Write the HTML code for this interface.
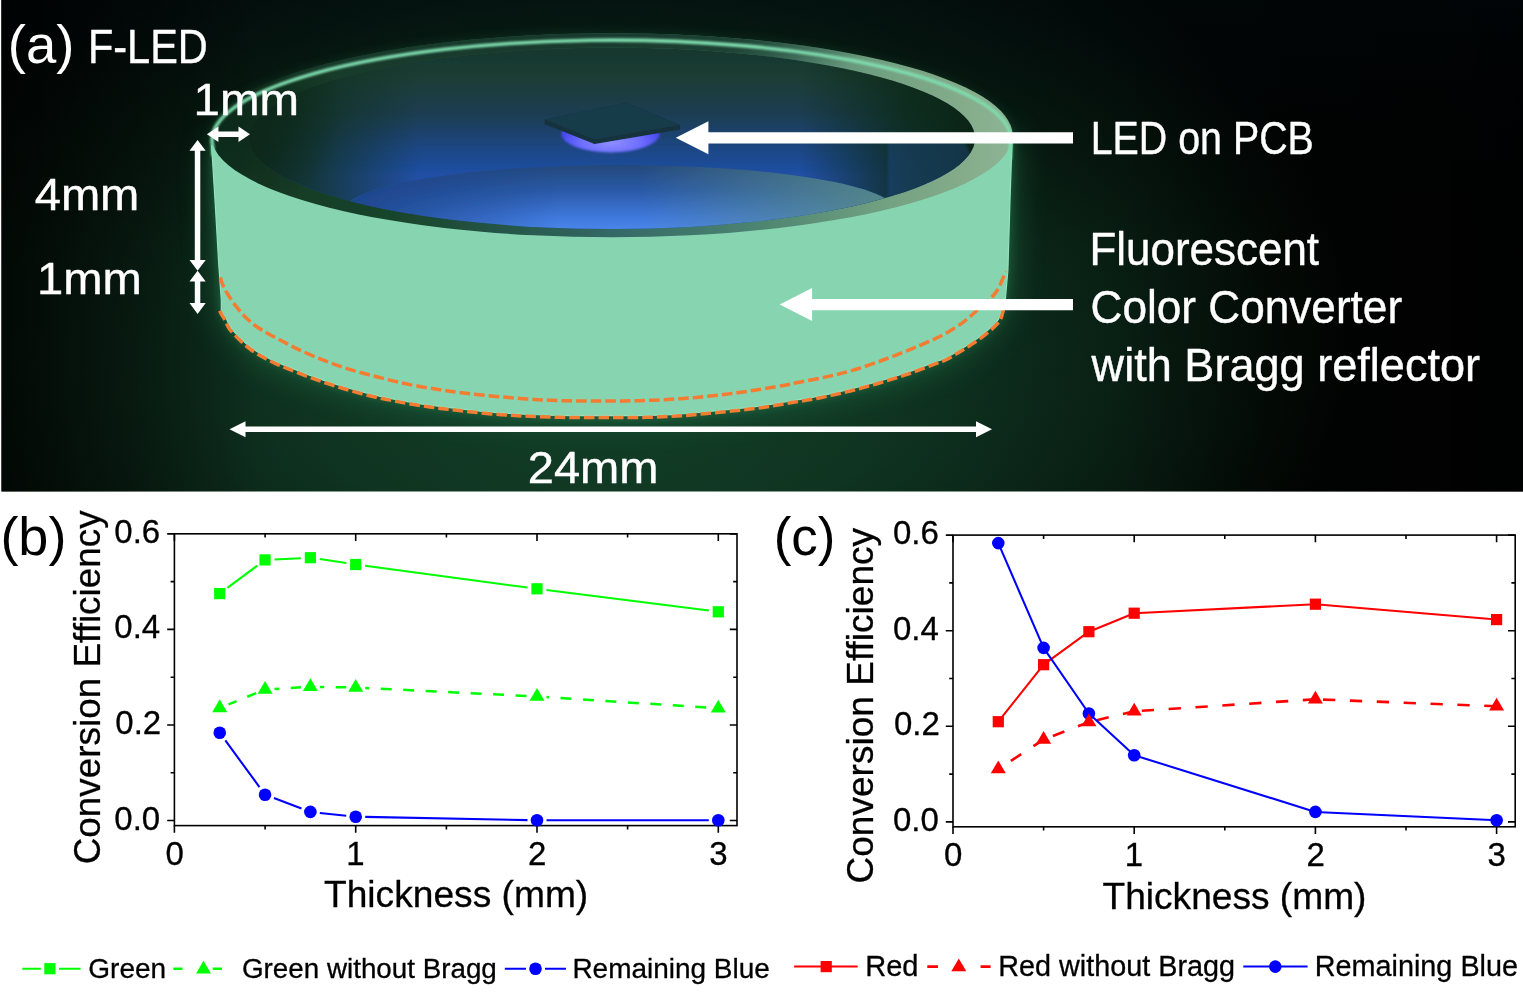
<!DOCTYPE html>
<html lang="en"><head><meta charset="utf-8"><title>F-LED conversion efficiency</title>
<style>
html,body{margin:0;padding:0;background:#fff;}
body{width:1523px;height:998px;overflow:hidden;font-family:"Liberation Sans",sans-serif;}
svg{display:block}
</style></head><body>
<svg width="1523" height="998" viewBox="0 0 1523 998">
<rect width="1523" height="998" fill="#fff"/>
<defs>
<radialGradient id="bgA" cx="600" cy="330" r="760" gradientUnits="userSpaceOnUse" gradientTransform="translate(600 330) scale(1 0.62) translate(-600 -330)">
<stop offset="0" stop-color="#15462c"/><stop offset="0.45" stop-color="#0f3421"/><stop offset="0.8" stop-color="#07180f"/><stop offset="1" stop-color="#020503"/></radialGradient>
<linearGradient id="bgR" x1="1120" y1="0" x2="1523" y2="0" gradientUnits="userSpaceOnUse">
<stop offset="0" stop-color="#000" stop-opacity="0"/><stop offset="1" stop-color="#000" stop-opacity="0.85"/></linearGradient>
<linearGradient id="bgL" x1="0" y1="0" x2="260" y2="0" gradientUnits="userSpaceOnUse">
<stop offset="0" stop-color="#000" stop-opacity="0.6"/><stop offset="0.5" stop-color="#000" stop-opacity="0.3"/><stop offset="1" stop-color="#000" stop-opacity="0"/></linearGradient>
<linearGradient id="bgT" x1="0" y1="0" x2="0" y2="491" gradientUnits="userSpaceOnUse">
<stop offset="0" stop-color="#00080c" stop-opacity="0.5"/><stop offset="0.5" stop-color="#000" stop-opacity="0.1"/><stop offset="1" stop-color="#000" stop-opacity="0"/></linearGradient>
<filter id="blur18" x="-20%" y="-20%" width="140%" height="140%"><feGaussianBlur stdDeviation="18"/></filter>
<filter id="blur6" x="-20%" y="-20%" width="140%" height="140%"><feGaussianBlur stdDeviation="6"/></filter>
<filter id="blur3" x="-20%" y="-20%" width="140%" height="140%"><feGaussianBlur stdDeviation="3"/></filter>
<filter id="blur2" x="-20%" y="-20%" width="140%" height="140%"><feGaussianBlur stdDeviation="1.6"/></filter>
<filter id="blur1" x="-20%" y="-20%" width="140%" height="140%"><feGaussianBlur stdDeviation="0.8"/></filter>
<filter id="soft" x="-5%" y="-5%" width="110%" height="110%"><feGaussianBlur stdDeviation="0.55"/></filter>
<linearGradient id="rimG" x1="211" y1="0" x2="1012" y2="0" gradientUnits="userSpaceOnUse">
<stop offset="0" stop-color="#103320"/><stop offset="0.25" stop-color="#1a472e"/><stop offset="0.5" stop-color="#336866"/><stop offset="0.68" stop-color="#4c8470"/><stop offset="0.85" stop-color="#74a282"/><stop offset="0.95" stop-color="#86ad8c"/><stop offset="1" stop-color="#8db494"/></linearGradient>
<linearGradient id="wallG" x1="0" y1="39" x2="0" y2="229" gradientUnits="userSpaceOnUse">
<stop offset="0" stop-color="#18362b"/><stop offset="0.2" stop-color="#1a3c34"/><stop offset="0.4" stop-color="#1a3e52"/><stop offset="0.56" stop-color="#1c4580"/><stop offset="0.72" stop-color="#2050a6"/><stop offset="1" stop-color="#2152aa"/></linearGradient>
<linearGradient id="sideL" x1="248" y1="0" x2="420" y2="0" gradientUnits="userSpaceOnUse">
<stop offset="0" stop-color="#0f2a1b" stop-opacity="1"/><stop offset="0.35" stop-color="#10301f" stop-opacity="0.8"/><stop offset="1" stop-color="#10301f" stop-opacity="0"/></linearGradient>
<linearGradient id="sideR" x1="975" y1="0" x2="800" y2="0" gradientUnits="userSpaceOnUse">
<stop offset="0" stop-color="#0a2414" stop-opacity="1"/><stop offset="0.4" stop-color="#0c2a18" stop-opacity="0.85"/><stop offset="1" stop-color="#0c2a18" stop-opacity="0"/></linearGradient>
<linearGradient id="floorG" x1="0" y1="165" x2="0" y2="230" gradientUnits="userSpaceOnUse">
<stop offset="0" stop-color="#24497c"/><stop offset="0.4" stop-color="#2a5aa8"/><stop offset="0.8" stop-color="#3f78dc"/><stop offset="1" stop-color="#4a86ea"/></linearGradient>
<linearGradient id="floorR" x1="640" y1="0" x2="880" y2="0" gradientUnits="userSpaceOnUse">
<stop offset="0" stop-color="#5a8c84" stop-opacity="0"/><stop offset="1" stop-color="#5a8c84" stop-opacity="0.85"/></linearGradient>
<linearGradient id="floorL" x1="345" y1="0" x2="560" y2="0" gradientUnits="userSpaceOnUse">
<stop offset="0" stop-color="#1b4286" stop-opacity="0.9"/><stop offset="1" stop-color="#1b4286" stop-opacity="0"/></linearGradient>
<radialGradient id="ledG" cx="611" cy="142" r="50" gradientUnits="userSpaceOnUse" gradientTransform="translate(611 142) scale(1 0.4) translate(-611 -142)">
<stop offset="0" stop-color="#9090ff"/><stop offset="0.6" stop-color="#6e6eff"/><stop offset="1" stop-color="#4a4af0"/></radialGradient>
<radialGradient id="rimTop" cx="520" cy="36" r="360" gradientUnits="userSpaceOnUse" gradientTransform="translate(520 36) scale(1 0.2) translate(-520 -36)">
<stop offset="0" stop-color="#183a2c" stop-opacity="1"/><stop offset="0.6" stop-color="#183a2c" stop-opacity="0.9"/><stop offset="1" stop-color="#183a2c" stop-opacity="0"/></radialGradient>
<radialGradient id="rimDark" cx="235" cy="105" r="110" gradientUnits="userSpaceOnUse">
<stop offset="0" stop-color="#0c2618" stop-opacity="0.85"/><stop offset="0.5" stop-color="#0c2618" stop-opacity="0.55"/><stop offset="1" stop-color="#0c2618" stop-opacity="0"/></radialGradient>
<clipPath id="outerClip"><ellipse cx="611.75" cy="135.3" rx="400.75" ry="102"/></clipPath>
<clipPath id="innerClip"><ellipse cx="612" cy="138.3" rx="363" ry="90.7"/></clipPath>
<clipPath id="panelClip"><rect x="1.4" y="0" width="1522" height="491.5"/></clipPath>
</defs>
<g clip-path="url(#panelClip)">
<rect x="1" y="0" width="1523" height="492" fill="url(#bgA)"/>
<rect x="1" y="0" width="1523" height="492" fill="url(#bgR)"/>
<rect x="1" y="0" width="1523" height="492" fill="url(#bgT)"/>
<rect x="1" y="0" width="262" height="492" fill="url(#bgL)"/>
<path d="M211.6,146.0 L215.0,200.0 L218.8,265.0 L221.3,300.0 L221.3,309.9 C221.7,310.6 222.7,312.9 223.6,314.4 C224.4,315.9 225.2,316.6 226.4,318.8 C227.6,321.0 228.4,324.4 230.8,327.6 C233.1,330.9 237.1,334.9 240.5,338.2 C243.9,341.5 247.3,344.7 251.2,347.6 C255.0,350.4 259.4,353.0 263.6,355.4 C267.8,357.8 271.8,359.9 276.4,362.0 C280.9,364.0 284.0,365.3 290.8,367.9 C297.5,370.6 307.9,374.8 316.7,377.9 C325.5,381.0 334.6,384.0 343.8,386.8 C353.0,389.5 362.6,392.2 372.0,394.4 C381.4,396.7 390.9,398.6 400.3,400.3 C409.8,402.1 420.8,403.8 428.7,405.0 C436.5,406.2 440.3,406.5 447.5,407.4 C454.7,408.3 463.1,409.3 472.1,410.2 C481.1,411.1 492.0,412.2 501.6,412.9 C511.3,413.6 520.2,414.1 529.9,414.5 C539.5,414.9 549.6,415.3 559.4,415.5 C569.3,415.7 579.3,415.7 588.9,415.7 C598.5,415.7 607.5,415.7 617.1,415.7 C626.7,415.7 636.7,415.7 646.6,415.5 C656.4,415.3 666.4,414.9 676.1,414.3 C685.7,413.7 694.8,412.8 704.4,411.9 C714.1,411.0 724.3,410.0 733.9,409.0 C743.5,408.0 752.6,407.1 762.2,405.7 C771.9,404.4 782.0,402.5 791.6,400.8 C801.2,399.2 810.5,397.8 820.0,395.9 C829.4,394.1 838.7,392.0 848.2,389.7 C857.6,387.3 867.1,384.7 876.5,382.0 C885.9,379.2 895.6,376.3 904.8,373.2 C914.1,370.1 925.2,365.6 932.0,363.1 C938.7,360.6 940.9,360.1 945.2,358.1 C949.5,356.0 953.7,353.4 957.7,351.0 C961.7,348.6 965.4,346.2 969.3,343.7 C973.2,341.1 977.0,338.6 980.9,335.7 C984.8,332.7 989.6,328.7 992.6,325.9 C995.5,323.1 997.1,321.6 998.5,319.1 C1000.0,316.6 1000.7,313.2 1001.4,310.6 C1002.1,308.0 1002.5,304.8 1002.7,303.7 L1005.3,300.0 L1007.9,270.0 L1010.0,200.0 L1012.3,135.0 Z" fill="#2f9a62" opacity="0.45" filter="url(#blur18)"/>
<path d="M211.6,146.0 L215.0,200.0 L218.8,265.0 L221.3,300.0 L221.3,309.9 C221.7,310.6 222.7,312.9 223.6,314.4 C224.4,315.9 225.2,316.6 226.4,318.8 C227.6,321.0 228.4,324.4 230.8,327.6 C233.1,330.9 237.1,334.9 240.5,338.2 C243.9,341.5 247.3,344.7 251.2,347.6 C255.0,350.4 259.4,353.0 263.6,355.4 C267.8,357.8 271.8,359.9 276.4,362.0 C280.9,364.0 284.0,365.3 290.8,367.9 C297.5,370.6 307.9,374.8 316.7,377.9 C325.5,381.0 334.6,384.0 343.8,386.8 C353.0,389.5 362.6,392.2 372.0,394.4 C381.4,396.7 390.9,398.6 400.3,400.3 C409.8,402.1 420.8,403.8 428.7,405.0 C436.5,406.2 440.3,406.5 447.5,407.4 C454.7,408.3 463.1,409.3 472.1,410.2 C481.1,411.1 492.0,412.2 501.6,412.9 C511.3,413.6 520.2,414.1 529.9,414.5 C539.5,414.9 549.6,415.3 559.4,415.5 C569.3,415.7 579.3,415.7 588.9,415.7 C598.5,415.7 607.5,415.7 617.1,415.7 C626.7,415.7 636.7,415.7 646.6,415.5 C656.4,415.3 666.4,414.9 676.1,414.3 C685.7,413.7 694.8,412.8 704.4,411.9 C714.1,411.0 724.3,410.0 733.9,409.0 C743.5,408.0 752.6,407.1 762.2,405.7 C771.9,404.4 782.0,402.5 791.6,400.8 C801.2,399.2 810.5,397.8 820.0,395.9 C829.4,394.1 838.7,392.0 848.2,389.7 C857.6,387.3 867.1,384.7 876.5,382.0 C885.9,379.2 895.6,376.3 904.8,373.2 C914.1,370.1 925.2,365.6 932.0,363.1 C938.7,360.6 940.9,360.1 945.2,358.1 C949.5,356.0 953.7,353.4 957.7,351.0 C961.7,348.6 965.4,346.2 969.3,343.7 C973.2,341.1 977.0,338.6 980.9,335.7 C984.8,332.7 989.6,328.7 992.6,325.9 C995.5,323.1 997.1,321.6 998.5,319.1 C1000.0,316.6 1000.7,313.2 1001.4,310.6 C1002.1,308.0 1002.5,304.8 1002.7,303.7 L1005.3,300.0 L1007.9,270.0 L1010.0,200.0 L1012.3,135.0 Z" fill="#3fb878" opacity="0.3" filter="url(#blur6)"/>
<ellipse cx="611.75" cy="135.3" rx="400.75" ry="102" fill="#2f9a62" opacity="0.18" filter="url(#blur6)"/>
<g filter="url(#soft)">
<path d="M211.6,146.0 L215.0,200.0 L218.8,265.0 L221.3,300.0 L221.3,309.9 C221.7,310.6 222.7,312.9 223.6,314.4 C224.4,315.9 225.2,316.6 226.4,318.8 C227.6,321.0 228.4,324.4 230.8,327.6 C233.1,330.9 237.1,334.9 240.5,338.2 C243.9,341.5 247.3,344.7 251.2,347.6 C255.0,350.4 259.4,353.0 263.6,355.4 C267.8,357.8 271.8,359.9 276.4,362.0 C280.9,364.0 284.0,365.3 290.8,367.9 C297.5,370.6 307.9,374.8 316.7,377.9 C325.5,381.0 334.6,384.0 343.8,386.8 C353.0,389.5 362.6,392.2 372.0,394.4 C381.4,396.7 390.9,398.6 400.3,400.3 C409.8,402.1 420.8,403.8 428.7,405.0 C436.5,406.2 440.3,406.5 447.5,407.4 C454.7,408.3 463.1,409.3 472.1,410.2 C481.1,411.1 492.0,412.2 501.6,412.9 C511.3,413.6 520.2,414.1 529.9,414.5 C539.5,414.9 549.6,415.3 559.4,415.5 C569.3,415.7 579.3,415.7 588.9,415.7 C598.5,415.7 607.5,415.7 617.1,415.7 C626.7,415.7 636.7,415.7 646.6,415.5 C656.4,415.3 666.4,414.9 676.1,414.3 C685.7,413.7 694.8,412.8 704.4,411.9 C714.1,411.0 724.3,410.0 733.9,409.0 C743.5,408.0 752.6,407.1 762.2,405.7 C771.9,404.4 782.0,402.5 791.6,400.8 C801.2,399.2 810.5,397.8 820.0,395.9 C829.4,394.1 838.7,392.0 848.2,389.7 C857.6,387.3 867.1,384.7 876.5,382.0 C885.9,379.2 895.6,376.3 904.8,373.2 C914.1,370.1 925.2,365.6 932.0,363.1 C938.7,360.6 940.9,360.1 945.2,358.1 C949.5,356.0 953.7,353.4 957.7,351.0 C961.7,348.6 965.4,346.2 969.3,343.7 C973.2,341.1 977.0,338.6 980.9,335.7 C984.8,332.7 989.6,328.7 992.6,325.9 C995.5,323.1 997.1,321.6 998.5,319.1 C1000.0,316.6 1000.7,313.2 1001.4,310.6 C1002.1,308.0 1002.5,304.8 1002.7,303.7 L1005.3,300.0 L1007.9,270.0 L1010.0,200.0 L1012.3,135.0 Z" fill="#86d4b0" stroke="#93e2c0" stroke-width="1.2"/>
<ellipse cx="611.75" cy="135.3" rx="400.75" ry="102" fill="url(#rimG)"/>
<ellipse cx="612" cy="138.3" rx="363" ry="90.7" fill="url(#wallG)"/>
</g>
<g clip-path="url(#innerClip)">
<rect x="240" y="30" width="190" height="210" fill="url(#sideL)"/>
<rect x="790" y="30" width="190" height="210" fill="url(#sideR)"/>
<path d="M888,142 L965,142 L975,165 L930,200 L888,197 Z" fill="#20508f" opacity="0.4" filter="url(#blur2)"/>
<g filter="url(#soft)">
<ellipse cx="620" cy="211" rx="276" ry="46" fill="url(#floorG)"/>
<ellipse cx="620" cy="211" rx="276" ry="46" fill="url(#floorR)"/>
<ellipse cx="620" cy="211" rx="276" ry="46" fill="url(#floorL)"/>
</g>
</g>
<rect x="200" y="30" width="160" height="190" fill="url(#rimDark)" clip-path="url(#outerClip)"/>
<g clip-path="url(#outerClip)"><path fill-rule="evenodd" fill="url(#rimTop)" d="M150,0 H900 V110 H150 Z M249,138.3 a363,90.7 0 1 0 726,0 a363,90.7 0 1 0 -726,0 Z"/></g>
<path d="M213.3,156 L212.6,146 A399.15,100.4 0 0 1 1010.7,135.3 L1010,160" fill="none" stroke="#7fdcae" stroke-width="3.6" filter="url(#blur1)"/>
<ellipse cx="610.5" cy="134" rx="49" ry="18.5" fill="url(#ledG)" filter="url(#blur1)"/>
<g filter="url(#soft)">
<path d="M544.5,119.5 L626.5,102.8 L680,125 L680,129.5 L594.5,144 L544.5,124 Z" fill="#12303c"/>
<path d="M544.5,119.5 L626.5,102.8 L680,125 L594.5,139.8 Z" fill="#193a4a"/>
</g>
<g filter="url(#soft)"><path d="M220.3,277.3 C220.8,278.6 221.7,282.4 223.0,285.4 C224.3,288.3 225.8,291.3 228.2,295.0 C230.5,298.7 234.0,303.8 237.1,307.7 C240.2,311.6 243.1,315.0 246.6,318.3 C250.1,321.6 254.0,324.8 257.9,327.5 C261.8,330.2 265.8,332.4 270.0,334.7 C274.2,337.0 278.7,339.2 283.0,341.5 C287.3,343.8 289.3,345.2 296.0,348.3 C302.7,351.4 314.1,356.6 323.2,360.1 C332.3,363.7 341.1,366.7 350.4,369.6 C359.6,372.5 369.4,374.9 378.7,377.3 C387.9,379.7 396.4,381.8 405.9,383.8 C415.4,385.8 425.9,387.6 435.5,389.1 C445.1,390.6 454.0,391.8 463.6,393.0 C473.2,394.2 483.3,395.2 493.2,396.2 C503.1,397.1 513.1,398.0 522.7,398.7 C532.4,399.4 541.5,399.9 551.1,400.3 C560.8,400.7 570.8,400.9 580.6,401.0 C590.4,401.1 600.4,401.1 610.0,401.0 C619.6,400.9 628.8,400.9 638.4,400.7 C648.0,400.4 658.2,400.1 667.9,399.5 C677.5,398.9 686.6,398.3 696.3,397.4 C705.9,396.5 716.1,395.4 725.8,394.2 C735.4,393.0 744.6,391.8 754.2,390.3 C763.9,388.8 776.6,386.6 783.7,385.4 C790.8,384.1 789.5,384.2 796.6,382.8 C803.7,381.4 816.7,379.0 826.2,376.9 C835.7,374.8 844.1,372.8 853.4,370.1 C862.6,367.4 872.5,363.8 881.7,360.5 C890.9,357.2 901.8,352.9 908.6,350.2 C915.4,347.5 918.0,346.2 922.5,344.3 C927.0,342.4 931.2,340.6 935.6,338.5 C940.0,336.4 944.4,334.2 948.7,331.7 C953.0,329.2 957.8,326.0 961.3,323.6 C964.8,321.2 967.0,319.1 969.4,317.1 C971.8,315.1 973.1,313.8 975.5,311.7 C977.9,309.6 980.9,306.8 983.5,304.5 C986.1,302.2 989.0,300.0 991.1,297.9 C993.2,295.8 994.8,293.8 996.2,291.9 C997.6,290.0 998.4,288.6 999.5,286.4 C1000.6,284.2 1001.8,281.1 1002.8,278.6 C1003.8,276.1 1005.3,272.6 1005.8,271.4" fill="none" stroke="#f47c30" stroke-width="3.5" stroke-dasharray="10.6 4"/>
<path d="M219.7,310.7 C220.1,311.5 221.2,313.8 222.0,315.3 C222.8,316.8 223.6,317.5 224.8,319.7 C226.0,321.9 226.9,325.4 229.3,328.7 C231.7,332.0 235.7,336.1 239.2,339.5 C242.7,342.9 246.2,346.1 250.1,349.0 C254.0,351.9 258.4,354.6 262.7,357.0 C266.9,359.4 271.0,361.5 275.6,363.6 C280.2,365.7 283.4,366.9 290.1,369.6 C296.9,372.3 307.2,376.5 316.1,379.6 C325.0,382.8 334.1,385.7 343.3,388.5 C352.6,391.3 362.2,393.9 371.6,396.2 C381.1,398.5 390.5,400.3 400.0,402.1 C409.5,403.9 420.5,405.6 428.4,406.8 C436.3,408.0 440.1,408.3 447.3,409.2 C454.6,410.1 462.9,411.1 471.9,412.0 C480.9,412.9 491.9,414.0 501.5,414.7 C511.1,415.4 520.1,415.9 529.8,416.3 C539.4,416.7 549.5,417.1 559.4,417.3 C569.2,417.5 579.3,417.5 588.9,417.5 C598.5,417.5 607.5,417.5 617.1,417.5 C626.7,417.5 636.8,417.5 646.6,417.3 C656.5,417.1 666.5,416.7 676.2,416.1 C685.9,415.5 695.0,414.6 704.6,413.7 C714.2,412.8 724.5,411.8 734.1,410.8 C743.8,409.8 752.9,408.9 762.5,407.5 C772.1,406.1 782.3,404.2 791.9,402.6 C801.5,401.0 810.8,399.6 820.3,397.7 C829.8,395.8 839.1,393.7 848.6,391.4 C858.1,389.1 867.5,386.4 877.0,383.7 C886.5,380.9 896.1,378.0 905.4,374.9 C914.7,371.8 925.8,367.3 932.6,364.8 C939.4,362.3 941.7,361.8 946.0,359.7 C950.3,357.6 954.6,354.9 958.6,352.5 C962.6,350.1 966.4,347.8 970.3,345.2 C974.2,342.6 978.1,340.1 982.0,337.1 C985.9,334.1 990.8,330.1 993.8,327.2 C996.8,324.3 998.5,322.7 1000.1,320.0 C1001.7,317.3 1002.4,313.8 1003.1,311.1 C1003.8,308.4 1004.3,305.2 1004.5,304.0" fill="none" stroke="#f47c30" stroke-width="3.5" stroke-dasharray="10.6 4"/></g>
<g filter="url(#soft)">
<polygon points="675.8,137.8 708.4,121.3 708.4,132.2 1073.0,132.2 1073.0,143.4 708.4,143.4 708.4,154.3" fill="#fff"/>
<polygon points="779.7,304.6 812.1,288.1 812.1,299.0 1073.0,299.0 1073.0,310.2 812.1,310.2 812.1,321.1" fill="#fff"/>
<polygon points="229.5,429.2 245.5,421.2 245.5,426.5 976.0,426.5 976.0,421.2 992.0,429.2 976.0,437.2 976.0,431.9 245.5,431.9 245.5,437.2" fill="#fff"/>
<polygon points="206.9,134.3 218.4,126.6 218.4,131.5 238.5,131.5 238.5,126.6 250.0,134.3 238.5,142.1 238.5,137.1 218.4,137.1 218.4,142.1" fill="#fff"/>
<polygon points="197.6,139.9 205.7,150.7 200.3,150.7 200.3,260.0 205.7,260.0 197.6,270.8 189.5,260.0 194.8,260.0 194.8,150.7 189.5,150.7" fill="#fff"/>
<polygon points="197.6,270.8 205.7,281.6 200.3,281.6 200.3,303.1 205.7,303.1 197.6,313.9 189.5,303.1 194.8,303.1 194.8,281.6 189.5,281.6" fill="#fff"/>
</g>
<text x="7.80" y="63.00" font-family="Liberation Sans, sans-serif" font-size="54.46" fill="#fff">(a)</text>
<text x="88.00" y="63.00" font-family="Liberation Sans, sans-serif" font-size="48.20" fill="#fff" stroke="#fff" stroke-width="0.4" stroke-linejoin="round" textLength="119.76" lengthAdjust="spacingAndGlyphs">F-LED</text>
<text x="193.50" y="115.00" font-family="Liberation Sans, sans-serif" font-size="43.80" fill="#fff" stroke="#fff" stroke-width="0.4" stroke-linejoin="round" textLength="105.39" lengthAdjust="spacingAndGlyphs">1mm</text>
<text x="34.70" y="209.80" font-family="Liberation Sans, sans-serif" font-size="43.80" fill="#fff" stroke="#fff" stroke-width="0.4" stroke-linejoin="round" textLength="104.65" lengthAdjust="spacingAndGlyphs">4mm</text>
<text x="36.90" y="293.90" font-family="Liberation Sans, sans-serif" font-size="43.80" fill="#fff" stroke="#fff" stroke-width="0.4" stroke-linejoin="round" textLength="104.86" lengthAdjust="spacingAndGlyphs">1mm</text>
<text x="527.80" y="483.00" font-family="Liberation Sans, sans-serif" font-size="43.80" fill="#fff" stroke="#fff" stroke-width="0.4" stroke-linejoin="round" textLength="130.69" lengthAdjust="spacingAndGlyphs">24mm</text>
<text x="1090.70" y="153.70" font-family="Liberation Sans, sans-serif" font-size="45.30" fill="#fff" stroke="#fff" stroke-width="0.4" stroke-linejoin="round" textLength="223.12" lengthAdjust="spacingAndGlyphs">LED on PCB</text>
<text x="1089.50" y="264.80" font-family="Liberation Sans, sans-serif" font-size="45.30" fill="#fff" stroke="#fff" stroke-width="0.4" stroke-linejoin="round" textLength="229.58" lengthAdjust="spacingAndGlyphs">Fluorescent</text>
<text x="1090.60" y="322.90" font-family="Liberation Sans, sans-serif" font-size="45.30" fill="#fff" stroke="#fff" stroke-width="0.4" stroke-linejoin="round" textLength="311.53" lengthAdjust="spacingAndGlyphs">Color Converter</text>
<text x="1091.60" y="381.10" font-family="Liberation Sans, sans-serif" font-size="45.30" fill="#fff" stroke="#fff" stroke-width="0.4" stroke-linejoin="round" textLength="388.50" lengthAdjust="spacingAndGlyphs">with Bragg reflector</text>
</g>
<rect x="174.4" y="533.8" width="562.6" height="291.8" fill="none" stroke="#000" stroke-width="1.6"/>
<path d="M174.4,825.6 v7.2 M174.4,533.8 v7.2 M265.1,825.6 v3.8 M265.1,533.8 v3.8 M355.7,825.6 v7.2 M355.7,533.8 v7.2 M446.4,825.6 v3.8 M446.4,533.8 v3.8 M537.0,825.6 v7.2 M537.0,533.8 v7.2 M627.6,825.6 v3.8 M627.6,533.8 v3.8 M718.3,825.6 v7.2 M718.3,533.8 v7.2 M174.4,820.5 h-7.2 M737,820.5 h-7.2 M174.4,772.7 h-3.8 M737,772.7 h-3.8 M174.4,725.0 h-7.2 M737,725.0 h-7.2 M174.4,677.2 h-3.8 M737,677.2 h-3.8 M174.4,629.4 h-7.2 M737,629.4 h-7.2 M174.4,581.6 h-3.8 M737,581.6 h-3.8 M174.4,533.9 h-7.2 M737,533.9 h-7.2" fill="none" stroke="#000" stroke-width="1.6"/>
<path d="M227.35,587.93 L257.43,565.57 M274.54,559.44 L300.89,558.16 M319.77,559.11 L346.31,563.09 M365.12,565.76 L527.58,587.54 M546.42,590.00 L708.88,610.60" fill="none" stroke="#00ff00" stroke-width="2.05" stroke-linejoin="round"/>
<rect x="214.13" y="588.00" width="11.2" height="11.2" fill="#00ff00"/>
<rect x="259.45" y="554.30" width="11.2" height="11.2" fill="#00ff00"/>
<rect x="304.77" y="552.10" width="11.2" height="11.2" fill="#00ff00"/>
<rect x="350.10" y="558.90" width="11.2" height="11.2" fill="#00ff00"/>
<rect x="531.40" y="583.20" width="11.2" height="11.2" fill="#00ff00"/>
<rect x="712.70" y="606.20" width="11.2" height="11.2" fill="#00ff00"/>
<path d="M228.53,704.33 L236.59,701.05 M247.24,696.73 L256.25,693.07 M274.53,688.94 L279.31,688.65 M290.79,687.97 L300.89,687.36 M319.87,686.95 L324.25,687.01 M335.75,687.19 L346.20,687.35 M365.19,687.97 L369.23,688.17 M380.72,688.74 L391.70,689.29 M403.19,689.86 L414.17,690.40 M425.66,690.97 L436.65,691.52 M448.13,692.09 L459.12,692.63 M470.61,693.20 L481.59,693.75 M493.08,694.32 L504.06,694.87 M515.55,695.44 L526.54,695.98 M546.48,697.12 L549.00,697.28 M560.47,698.03 L571.45,698.74 M582.93,699.49 L593.90,700.20 M605.38,700.95 L616.36,701.66 M627.83,702.41 L638.81,703.13 M650.28,703.87 L661.26,704.59 M672.74,705.33 L683.71,706.05 M695.19,706.80 L706.17,707.51" fill="none" stroke="#00ff00" stroke-width="2.5" stroke-linejoin="round"/>
<polygon points="219.73,699.37 227.23,712.17 212.23,712.17" fill="#00ff00"/>
<polygon points="265.05,680.97 272.55,693.77 257.55,693.77" fill="#00ff00"/>
<polygon points="310.38,678.27 317.88,691.07 302.88,691.07" fill="#00ff00"/>
<polygon points="355.70,678.97 363.20,691.77 348.20,691.77" fill="#00ff00"/>
<polygon points="537.00,687.97 544.50,700.77 529.50,700.77" fill="#00ff00"/>
<polygon points="718.30,699.77 725.80,712.57 710.80,712.57" fill="#00ff00"/>
<path d="M225.34,740.46 L259.44,787.04 M273.93,798.07 L301.49,808.53 M319.82,812.90 L346.25,815.70 M365.20,816.89 L527.50,820.11 M546.50,820.30 L708.80,820.30" fill="none" stroke="#0000ff" stroke-width="2.05" stroke-linejoin="round"/>
<circle cx="219.73" cy="732.80" r="6.3" fill="#0000ff"/>
<circle cx="265.05" cy="794.70" r="6.3" fill="#0000ff"/>
<circle cx="310.38" cy="811.90" r="6.3" fill="#0000ff"/>
<circle cx="355.70" cy="816.70" r="6.3" fill="#0000ff"/>
<circle cx="537.00" cy="820.30" r="6.3" fill="#0000ff"/>
<circle cx="718.30" cy="820.30" r="6.3" fill="#0000ff"/>
<rect x="953" y="535.1" width="562.2" height="291.7" fill="none" stroke="#000" stroke-width="1.6"/>
<path d="M953.0,826.8 v7.2 M953.0,535.1 v7.2 M1043.6,826.8 v3.8 M1043.6,535.1 v3.8 M1134.2,826.8 v7.2 M1134.2,535.1 v7.2 M1224.8,826.8 v3.8 M1224.8,535.1 v3.8 M1315.4,826.8 v7.2 M1315.4,535.1 v7.2 M1406.0,826.8 v3.8 M1406.0,535.1 v3.8 M1496.6,826.8 v7.2 M1496.6,535.1 v7.2 M953,821.9 h-7.2 M1515.2,821.9 h-7.2 M953,774.1 h-3.8 M1515.2,774.1 h-3.8 M953,726.3 h-7.2 M1515.2,726.3 h-7.2 M953,678.5 h-3.8 M1515.2,678.5 h-3.8 M953,630.7 h-7.2 M1515.2,630.7 h-7.2 M953,582.9 h-3.8 M1515.2,582.9 h-3.8 M953,535.1 h-7.2 M1515.2,535.1 h-7.2" fill="none" stroke="#000" stroke-width="1.6"/>
<path d="M998.30,721.70 L1043.60,664.70 L1088.90,631.70 L1134.20,613.20 L1315.40,604.20 L1496.60,619.60" fill="none" stroke="#ff0000" stroke-width="2.05" stroke-linejoin="round"/>
<path d="M998.30,769.00 L998.64,768.78 M1010.88,760.83 L1021.20,754.14 M1033.45,746.19 L1043.60,739.60 M1052.92,735.98 L1064.39,731.52 M1078.00,726.24 L1088.90,722.00 M1096.69,720.16 L1108.66,717.33 M1122.87,713.98 L1134.20,711.30 M1141.78,710.80 L1154.06,709.98 M1168.62,709.02 L1180.90,708.21 M1195.47,707.24 L1207.74,706.43 M1222.31,705.47 L1234.58,704.65 M1249.15,703.69 L1261.42,702.87 M1275.99,701.91 L1288.26,701.10 M1302.83,700.13 L1315.10,699.32 M1322.99,699.59 L1335.29,700.07 M1349.87,700.63 L1362.17,701.11 M1376.75,701.67 L1389.05,702.15 M1403.63,702.71 L1415.93,703.18 M1430.51,703.75 L1442.80,704.22 M1457.39,704.79 L1469.68,705.26 M1484.27,705.82 L1496.56,706.30" fill="none" stroke="#ff0000" stroke-width="2.6" stroke-linejoin="round"/>
<path d="M998.30,543.10 L1043.60,647.90 L1088.90,713.50 L1134.20,755.20 L1315.40,811.90 L1496.60,820.30" fill="none" stroke="#0000ff" stroke-width="2.05" stroke-linejoin="round"/>
<rect x="992.70" y="716.10" width="11.2" height="11.2" fill="#ff0000"/>
<rect x="1038.00" y="659.10" width="11.2" height="11.2" fill="#ff0000"/>
<rect x="1083.30" y="626.10" width="11.2" height="11.2" fill="#ff0000"/>
<rect x="1128.60" y="607.60" width="11.2" height="11.2" fill="#ff0000"/>
<rect x="1309.80" y="598.60" width="11.2" height="11.2" fill="#ff0000"/>
<rect x="1491.00" y="614.00" width="11.2" height="11.2" fill="#ff0000"/>
<circle cx="998.30" cy="543.10" r="6.3" fill="#0000ff"/>
<circle cx="1043.60" cy="647.90" r="6.3" fill="#0000ff"/>
<circle cx="1088.90" cy="713.50" r="6.3" fill="#0000ff"/>
<circle cx="1134.20" cy="755.20" r="6.3" fill="#0000ff"/>
<circle cx="1315.40" cy="811.90" r="6.3" fill="#0000ff"/>
<circle cx="1496.60" cy="820.30" r="6.3" fill="#0000ff"/>
<polygon points="998.30,760.47 1005.80,773.27 990.80,773.27" fill="#ff0000"/>
<polygon points="1043.60,731.07 1051.10,743.87 1036.10,743.87" fill="#ff0000"/>
<polygon points="1088.90,713.47 1096.40,726.27 1081.40,726.27" fill="#ff0000"/>
<polygon points="1134.20,702.77 1141.70,715.57 1126.70,715.57" fill="#ff0000"/>
<polygon points="1315.40,690.77 1322.90,703.57 1307.90,703.57" fill="#ff0000"/>
<polygon points="1496.60,697.77 1504.10,710.57 1489.10,710.57" fill="#ff0000"/>
<text x="0.40" y="554.80" font-family="Liberation Sans, sans-serif" font-size="54.00" fill="#000">(b)</text>
<text x="773.70" y="555.30" font-family="Liberation Sans, sans-serif" font-size="52.96" fill="#000">(c)</text>
<text x="114.30" y="542.90" font-family="Liberation Sans, sans-serif" font-size="33.00" fill="#000" stroke="#000" stroke-width="0.3">0.6</text>
<text x="114.30" y="638.40" font-family="Liberation Sans, sans-serif" font-size="33.00" fill="#000" stroke="#000" stroke-width="0.3">0.4</text>
<text x="115.30" y="733.90" font-family="Liberation Sans, sans-serif" font-size="33.00" fill="#000" stroke="#000" stroke-width="0.3">0.2</text>
<text x="114.30" y="829.60" font-family="Liberation Sans, sans-serif" font-size="33.00" fill="#000" stroke="#000" stroke-width="0.3">0.0</text>
<text x="893.00" y="544.20" font-family="Liberation Sans, sans-serif" font-size="33.00" fill="#000" stroke="#000" stroke-width="0.3">0.6</text>
<text x="893.00" y="639.60" font-family="Liberation Sans, sans-serif" font-size="33.00" fill="#000" stroke="#000" stroke-width="0.3">0.4</text>
<text x="894.00" y="735.20" font-family="Liberation Sans, sans-serif" font-size="33.00" fill="#000" stroke="#000" stroke-width="0.3">0.2</text>
<text x="893.00" y="831.00" font-family="Liberation Sans, sans-serif" font-size="33.00" fill="#000" stroke="#000" stroke-width="0.3">0.0</text>
<text x="165.40" y="865.20" font-family="Liberation Sans, sans-serif" font-size="33.00" fill="#000" stroke="#000" stroke-width="0.3">0</text>
<text x="944.00" y="865.80" font-family="Liberation Sans, sans-serif" font-size="33.00" fill="#000" stroke="#000" stroke-width="0.3">0</text>
<text x="346.20" y="865.20" font-family="Liberation Sans, sans-serif" font-size="33.00" fill="#000" stroke="#000" stroke-width="0.3">1</text>
<text x="1124.70" y="865.80" font-family="Liberation Sans, sans-serif" font-size="33.00" fill="#000" stroke="#000" stroke-width="0.3">1</text>
<text x="528.00" y="865.20" font-family="Liberation Sans, sans-serif" font-size="33.00" fill="#000" stroke="#000" stroke-width="0.3">2</text>
<text x="1306.40" y="865.80" font-family="Liberation Sans, sans-serif" font-size="33.00" fill="#000" stroke="#000" stroke-width="0.3">2</text>
<text x="709.30" y="865.20" font-family="Liberation Sans, sans-serif" font-size="33.00" fill="#000" stroke="#000" stroke-width="0.3">3</text>
<text x="1487.60" y="865.80" font-family="Liberation Sans, sans-serif" font-size="33.00" fill="#000" stroke="#000" stroke-width="0.3">3</text>
<text x="324.00" y="907.00" font-family="Liberation Sans, sans-serif" font-size="37.16" fill="#000" stroke="#000" stroke-width="0.3">Thickness (mm)</text>
<text x="1102.50" y="908.80" font-family="Liberation Sans, sans-serif" font-size="37.12" fill="#000" stroke="#000" stroke-width="0.3">Thickness (mm)</text>
<text transform="translate(99.60,864.30) rotate(-90)" font-family="Liberation Sans, sans-serif" font-size="36.89" fill="#000" stroke="#000" stroke-width="0.3">Conversion Efficiency</text>
<text transform="translate(873.20,883.50) rotate(-90)" font-family="Liberation Sans, sans-serif" font-size="37.06" fill="#000" stroke="#000" stroke-width="0.3">Conversion Efficiency</text>
<text x="88.30" y="977.90" font-family="Liberation Sans, sans-serif" font-size="28.04" fill="#000" stroke="#000" stroke-width="0.3">Green</text>
<text x="242.00" y="977.90" font-family="Liberation Sans, sans-serif" font-size="27.79" fill="#000" stroke="#000" stroke-width="0.3">Green without Bragg</text>
<text x="572.40" y="977.90" font-family="Liberation Sans, sans-serif" font-size="27.98" fill="#000" stroke="#000" stroke-width="0.3">Remaining Blue</text>
<text x="865.20" y="975.80" font-family="Liberation Sans, sans-serif" font-size="29.06" fill="#000" stroke="#000" stroke-width="0.3">Red</text>
<text x="998.30" y="975.80" font-family="Liberation Sans, sans-serif" font-size="28.77" fill="#000" stroke="#000" stroke-width="0.3">Red without Bragg</text>
<text x="1314.80" y="975.80" font-family="Liberation Sans, sans-serif" font-size="28.79" fill="#000" stroke="#000" stroke-width="0.3">Remaining Blue</text>
<path d="M22.3,968.7 H40.8 M59,968.7 H80.6" stroke="#00ff00" stroke-width="2" fill="none"/>
<rect x="44.30" y="963.10" width="11.2" height="11.2" fill="#00ff00"/>
<path d="M173.3,968.7 H182.5 M212.7,968.7 H222" stroke="#00ff00" stroke-width="2.4" fill="none"/>
<polygon points="203.50,960.67 211.00,973.47 196.00,973.47" fill="#00ff00"/>
<path d="M504.8,968.7 H526 M545,968.7 H566" stroke="#0000ff" stroke-width="2" fill="none"/>
<circle cx="535.50" cy="968.70" r="6.3" fill="#0000ff"/>
<path d="M794.1,966.6 H857.7" stroke="#ff0000" stroke-width="2" fill="none"/>
<rect x="820.60" y="961.00" width="11.2" height="11.2" fill="#ff0000"/>
<path d="M927.3,966.6 H938 M980.6,966.6 H990.6" stroke="#ff0000" stroke-width="2.6" fill="none"/>
<polygon points="958.80,958.57 966.30,971.37 951.30,971.37" fill="#ff0000"/>
<path d="M1243.3,966.6 H1307.6" stroke="#0000ff" stroke-width="2" fill="none"/>
<circle cx="1275.30" cy="966.60" r="6.3" fill="#0000ff"/>
</svg>
</body></html>
